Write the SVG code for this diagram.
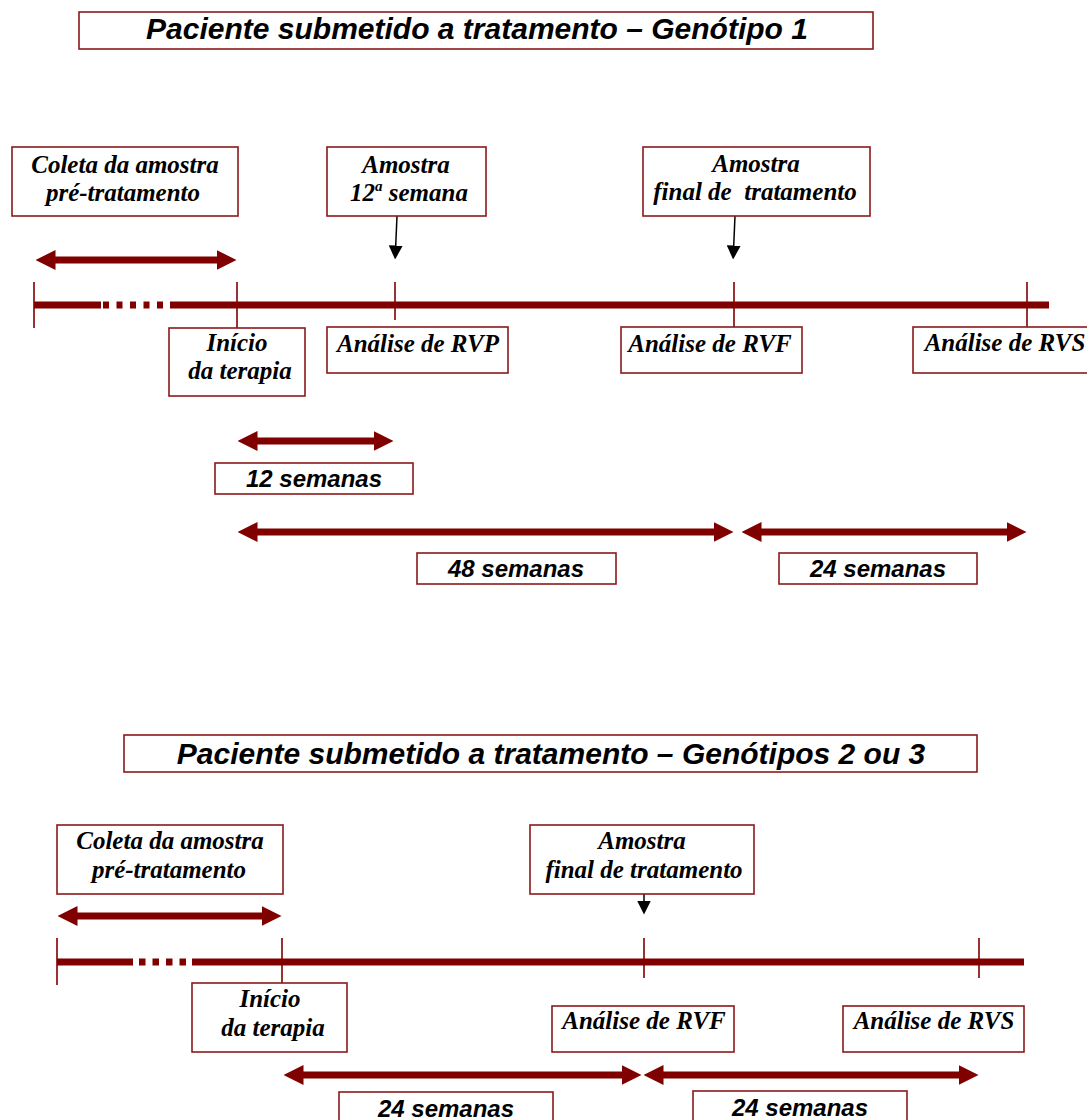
<svg xmlns="http://www.w3.org/2000/svg" width="1087" height="1120" viewBox="0 0 1087 1120">
<style>
.box{fill:#fff;stroke:#8b1a1a;stroke-width:1.6}
.lbl{font-family:"Liberation Serif","Times New Roman",serif;font-weight:bold;font-style:italic;font-size:25px;fill:#000;text-anchor:middle}
.sans{font-family:"Liberation Sans",Arial,sans-serif;font-weight:bold;font-style:italic;fill:#000;text-anchor:middle}
.ttl{font-size:30px}
.wk{font-size:24px}
.tl{fill:none;stroke:#800000;stroke-width:7}
.dash{stroke-dasharray:6 7.5}
.tick{fill:none;stroke:#800000;stroke-width:1.6}
.dbl{fill:none;stroke:#800000;stroke-width:7;marker-start:url(#ah);marker-end:url(#ah)}
.blk{fill:none;stroke:#000;stroke-width:1.5;marker-end:url(#bh)}
</style>
<defs>
<marker id="ah" markerUnits="userSpaceOnUse" viewBox="0 0 20 20" markerWidth="20" markerHeight="20" refX="0.5" refY="10" orient="auto-start-reverse">
<path d="M0,0 L20,10 L0,20 z" fill="#800000"/>
</marker>
<marker id="bh" markerUnits="userSpaceOnUse" viewBox="0 0 14 14" markerWidth="14" markerHeight="14" refX="0.5" refY="7" orient="auto">
<path d="M0,0 L14,7 L0,14 z" fill="#000"/>
</marker>
</defs>

<g id="connectors">
<!-- top timeline -->
<path class="dbl" d="M55,260 H217"/>
<path class="tl" d="M34,305 H101"/>
<path class="tl dash" d="M103,305 H166"/>
<path class="tl" d="M170,305 H1049"/>
<path class="tick" d="M34,282 V328 M237,282 V328 M395,282 V320 M734,282 V327 M1027,282 V327"/>
<path class="blk" d="M397,216 L395.7,246"/>
<path class="blk" d="M735,216 L733.7,246"/>
<path class="dbl" d="M257,441 H374"/>
<path class="dbl" d="M257,532 H714"/>
<path class="dbl" d="M761,532 H1007"/>
<!-- bottom timeline -->
<path class="dbl" d="M77,916 H262"/>
<path class="tl" d="M57,962 H133"/>
<path class="tl" style="stroke-dasharray:6.5 7" d="M139,962 H187"/>
<path class="tl" d="M192,962 H1024"/>
<path class="tick" d="M57,938 V985 M282,938 V983 M644,938 V978 M979,938 V978"/>
<path class="blk" d="M644,894 V901"/>
<path class="dbl" d="M303,1075 H622"/>
<path class="dbl" d="M663,1075 H959"/>
</g>

<g id="title1">
<rect class="box" x="79" y="12" width="794" height="37"/>
<text class="sans ttl" x="477" y="39">Paciente submetido a tratamento – Genótipo 1</text>
</g>
<g id="coleta1">
<rect class="box" x="12" y="147" width="226" height="69"/>
<text class="lbl" x="125" y="173">Coleta da amostra</text>
<text class="lbl" x="123" y="201">pré-tratamento</text>
</g>
<g id="amostra12">
<rect class="box" x="327" y="147" width="159" height="69"/>
<text class="lbl" x="406" y="173">Amostra</text>
<text class="lbl" x="409" y="201">12<tspan font-size="15" dy="-10">a</tspan><tspan dy="10"> semana</tspan></text>
</g>
<g id="amostrafinal1">
<rect class="box" x="643" y="147" width="227" height="69"/>
<text class="lbl" x="756" y="172">Amostra</text>
<text class="lbl" x="755" y="200" xml:space="preserve">final de  tratamento</text>
</g>
<g id="inicio1">
<rect class="box" x="169" y="328" width="136" height="68"/>
<text class="lbl" x="237" y="351">Início</text>
<text class="lbl" x="240" y="379">da terapia</text>
</g>
<g id="rvp1">
<rect class="box" x="327" y="327" width="181" height="46"/>
<text class="lbl" x="418" y="352">Análise de RVP</text>
</g>
<g id="rvf1">
<rect class="box" x="621" y="327" width="181" height="46"/>
<text class="lbl" x="710" y="352">Análise de RVF</text>
</g>
<g id="rvs1">
<rect class="box" x="913" y="327" width="180" height="46"/>
<text class="lbl" x="1005" y="351">Análise de RVS</text>
</g>
<g id="sem12">
<rect class="box" x="215" y="463" width="198" height="31"/>
<text class="sans wk" x="314" y="487">12 semanas</text>
</g>
<g id="sem48">
<rect class="box" x="417" y="553" width="199" height="31"/>
<text class="sans wk" x="516" y="577">48 semanas</text>
</g>
<g id="sem24a">
<rect class="box" x="779" y="553" width="198" height="31"/>
<text class="sans wk" x="878" y="577">24 semanas</text>
</g>

<g id="title2">
<rect class="box" x="124" y="735" width="853" height="37"/>
<text class="sans ttl" x="551" y="764">Paciente submetido a tratamento – Genótipos 2 ou 3</text>
</g>
<g id="coleta2">
<rect class="box" x="57" y="825" width="226" height="69"/>
<text class="lbl" x="170" y="849">Coleta da amostra</text>
<text class="lbl" x="169" y="878">pré-tratamento</text>
</g>
<g id="amostrafinal2">
<rect class="box" x="530" y="825" width="224" height="69"/>
<text class="lbl" x="642" y="849">Amostra</text>
<text class="lbl" x="644" y="878">final de tratamento</text>
</g>
<g id="inicio2">
<rect class="box" x="192" y="983" width="155" height="69"/>
<text class="lbl" x="270" y="1007">Início</text>
<text class="lbl" x="273" y="1036">da terapia</text>
</g>
<g id="rvf2">
<rect class="box" x="552" y="1006" width="182" height="46"/>
<text class="lbl" x="644" y="1029">Análise de RVF</text>
</g>
<g id="rvs2">
<rect class="box" x="843" y="1006" width="181" height="46"/>
<text class="lbl" x="934" y="1029">Análise de RVS</text>
</g>
<g id="sem24b">
<rect class="box" x="339" y="1092" width="214" height="40"/>
<text class="sans wk" x="446" y="1117">24 semanas</text>
</g>
<g id="sem24c">
<rect class="box" x="693" y="1091" width="214" height="40"/>
<text class="sans wk" x="800" y="1116">24 semanas</text>
</g>
</svg>
